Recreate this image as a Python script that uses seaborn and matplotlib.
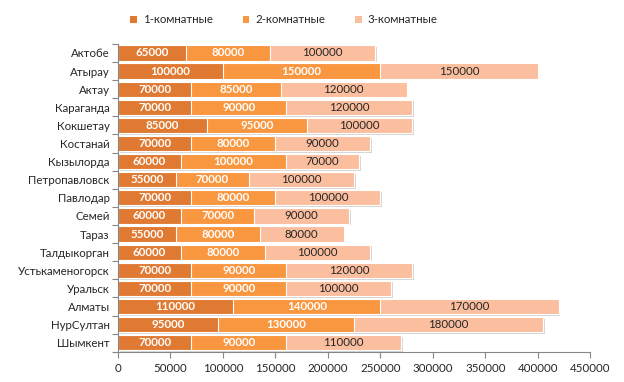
import matplotlib
matplotlib.use("Agg")
import matplotlib.pyplot as plt
import matplotlib.patheffects as pe
from matplotlib.ticker import MultipleLocator, FixedLocator
from matplotlib.patches import Patch
import numpy as np
import pandas as pd
import seaborn as sns

cities = ["Актобе", "Атырау", "Актау", "Караганда", "Кокшетау", "Костанай", "Кызылорда",
          "Петропавловск", "Павлодар", "Семей", "Тараз", "Талдыкорган", "Устькаменогорск",
          "Уральск", "Алматы", "НурСултан", "Шымкент"]
one_room = [65000, 100000, 70000, 70000, 85000, 70000, 60000, 55000, 70000, 60000, 55000,
            60000, 70000, 70000, 110000, 95000, 70000]
two_room = [80000, 150000, 85000, 90000, 95000, 80000, 100000, 70000, 80000, 70000, 80000,
            80000, 90000, 90000, 140000, 130000, 90000]
three_room = [100000, 150000, 120000, 120000, 100000, 90000, 70000, 100000, 100000, 90000, 80000,
              100000, 120000, 100000, 170000, 180000, 110000]
series_names = ["1-комнатные", "2-комнатные", "3-комнатные"]
colors = ["#E07A32", "#F99640", "#FBBE9E"]

sns.set_theme(style="white")
plt.rcParams["font.family"] = ["Lato", "DejaVu Sans"]

df = pd.DataFrame({"city": cities, "a": one_room, "b": two_room, "c": three_room})
df["ab"] = df["a"] + df["b"]
df["abc"] = df["ab"] + df["c"]

fig = plt.figure(figsize=(6.24, 3.82), dpi=100)
ax = fig.add_axes([0.189, 0.079, 0.757, 0.806])

w = 0.84
fs = 8.3
sns.barplot(data=df, x="abc", y="city", orient="h", color=colors[2], saturation=1,
            width=w, edgecolor="white", linewidth=0.8, ax=ax)
for p in ax.patches:
    p.set_path_effects([pe.SimplePatchShadow(offset=(1.2, -1.2), alpha=0.35, shadow_rgbFace="#888888"), pe.Normal()])
sns.barplot(data=df, x="ab", y="city", orient="h", color=colors[1], saturation=1,
            width=w, edgecolor="white", linewidth=0.8, ax=ax)
sns.barplot(data=df, x="a", y="city", orient="h", color=colors[0], saturation=1,
            width=w, edgecolor="white", linewidth=0.8, ax=ax)

for i, row in df.iterrows():
    ax.text(row["a"] / 2, i, f"{row['a']}", ha="center", va="center", color="white",
            fontsize=fs, fontweight="bold")
    ax.text(row["a"] + row["b"] / 2, i, f"{row['b']}", ha="center", va="center", color="white",
            fontsize=fs, fontweight="bold")
    ax.text(row["ab"] + row["c"] / 2, i, f"{row['c']}", ha="center", va="center", color="#262626",
            fontsize=fs)

ax.set_xlim(0, 450000)
ax.set_ylim(len(cities) - 0.5, -0.5)
ax.xaxis.set_major_locator(MultipleLocator(50000))
ax.set_xlabel("")
ax.set_ylabel("")
ax.tick_params(axis="x", labelsize=fs, colors="#262626", length=4, width=0.8, direction="out",
               bottom=True, color="#868686", pad=4)
ax.tick_params(axis="y", which="major", labelsize=fs, labelcolor="#262626", length=0, pad=6)
ax.yaxis.set_minor_locator(FixedLocator(np.arange(-0.5, len(cities), 1)))
ax.tick_params(axis="y", which="minor", length=4, width=0.8, color="#868686", left=True)
for s in ["top", "right"]:
    ax.spines[s].set_visible(False)
for s in ["left", "bottom"]:
    ax.spines[s].set_color("#868686")
    ax.spines[s].set_linewidth(0.8)

hs = [Patch(facecolor=c, edgecolor="none") for c in colors]
fig.legend(hs, series_names, loc="center", bbox_to_anchor=(0.455, 0.948), ncol=3, frameon=False,
           fontsize=fs, handlelength=0.6, handleheight=0.6, handletextpad=0.5, columnspacing=2.6,
           labelcolor="#262626")

fig.savefig("out.png", dpi=100)
